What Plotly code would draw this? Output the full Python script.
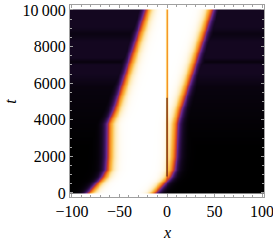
import numpy as np
import plotly.graph_objects as go

# Edge positions of the bright band (t -> x)
edge_t = [0, 900, 1300, 2000, 3800, 4550, 10000]
left_x = [-83, -67, -63, -62, -61.5, -55, -22]
right_x = [-13, 3, 6.5, 8.4, 10.2, 13.7, 47]

# Line at x = 0: colour level along t (heatmap dip)
line_t = [0, 1000, 4000, 5500, 10000]
line_lv = [0.3, 0.55, 0.55, 0.6, 0.62]
# dark core of the line (separate thin mark)
core_t = [900, 5200]
core_x = [0, 0]

# Faint background level in the dark region along t
bg_t = [0, 2500, 5800, 6500, 7000, 7200, 7400, 8300, 8700, 9100, 10000]
bg_lv = [0.0, 0.0, 0.04, 0.09, 0.09, 0.04, 0.09, 0.09, 0.05, 0.09, 0.09]

xtick_vals = [-100, -50, 0, 50, 100]
xtick_text = ["\u2212100", "\u221250", "0", "50", "100"]
ytick_vals = [0, 2000, 4000, 6000, 8000, 10000]
ytick_text = ["0", "2000", "4000", "6000", "8000", "10\u2009000"]

L = 102
xs = np.arange(-L, L + 0.01, 0.5)
ts = np.arange(0, 10001, 50)
X, T = np.meshgrid(xs, ts)
Lt = np.interp(T, edge_t, left_x)
Rt = np.interp(T, edge_t, right_x)
sig = lambda u: 1 / (1 + np.exp(-u))
Z = sig((X - Lt) / 3.2) * sig((Rt - X) / 3.2)
lv = np.interp(T, line_t, line_lv)
w = np.exp(-(X / 1.1) ** 2)
Z = Z - w * np.maximum(Z - lv, 0)
Z = np.maximum(Z, np.interp(T, bg_t, bg_lv))

cscale = [
    [0.0, "#000000"], [0.1, "#160824"], [0.22, "#3a135c"], [0.35, "#6e2a8e"],
    [0.46, "#b8383a"], [0.56, "#e65a1c"], [0.66, "#f48c22"], [0.78, "#fbbb45"],
    [0.9, "#fee8b0"], [1.0, "#ffffff"],
]

fig = go.Figure()
fig.add_trace(go.Heatmap(x=xs, y=ts, z=Z, colorscale=cscale, zmin=0, zmax=1,
                         showscale=False, zsmooth="best", hoverinfo="skip"))
fig.add_trace(go.Scatter(x=core_x, y=core_t, mode="lines",
                         line=dict(color="#4a1616", width=1), hoverinfo="skip", showlegend=False))

FAM = "Liberation Serif"
font = dict(family=FAM, size=16, color="black")
axcommon = dict(showgrid=False, zeroline=False, showline=True, linecolor="#a0a0a0",
                linewidth=1, mirror="ticks", ticks="inside", ticklen=3, tickcolor="#a0a0a0",
                tickfont=font, automargin=False, ticklabeloverflow="allow",
                minor=dict(ticks="inside", ticklen=2, tickcolor="#a0a0a0", nticks=5))
fig.update_xaxes(range=[-L, L], tickvals=xtick_vals, ticktext=xtick_text, **axcommon)
fig.update_yaxes(range=[-220, 10270], tickvals=ytick_vals, ticktext=ytick_text, **axcommon)

fig.update_layout(
    width=273, height=243, margin=dict(l=70, r=9, t=5, b=46),
    paper_bgcolor="white", plot_bgcolor="white", font=font, showlegend=False,
    annotations=[
        dict(text="<i>x</i>", x=0.5, y=-0.185, xref="paper", yref="paper",
             showarrow=False, font=dict(family=FAM, size=16), yanchor="middle"),
        dict(text="<i>t</i>", x=-0.31, y=0.5, xref="paper", yref="paper", textangle=-90,
             showarrow=False, font=dict(family=FAM, size=16), xanchor="center"),
    ],
)
fig.write_html("out.html", config={"displayModeBar": False},
               post_script="document.body.style.margin='0';document.body.style.padding='0';")
